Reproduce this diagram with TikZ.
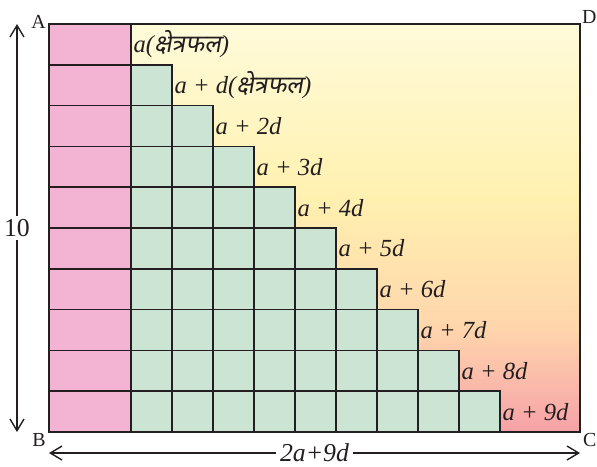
\documentclass[tikz,border=0pt]{standalone}
\usepackage{fontspec}
\setmainfont{Liberation Serif}
\newfontfamily\hindifont[Script=Devanagari,FakeSlant=0.18]{Noto Sans}
\usetikzlibrary{arrows.meta, positioning}
\definecolor{inkc}{RGB}{35,31,32}
\definecolor{pinkc}{RGB}{243,180,212}
\definecolor{greenc}{RGB}{204,228,212}
\definecolor{topc}{RGB}{255,251,218}
\definecolor{midc}{RGB}{255,241,176}
\definecolor{peachc}{RGB}{255,214,172}
\definecolor{botc}{RGB}{246,162,168}
\pgfdeclareverticalshading{fieldshade}{100bp}{color(0bp)=(botc); color(25bp)=(botc);
  color(38bp)=(peachc); color(54bp)=(midc); color(75bp)=(topc); color(100bp)=(topc)}
\tikzset{
  field/.style={shade, shading=fieldshade, anchor=north west, inner sep=0, outer sep=0,
                minimum width=15.93cm, minimum height=12.24cm},
  frame/.style={draw=inkc, line width=2pt},
  cell/.style={draw=inkc, line width=1.5pt, anchor=north west, inner sep=0, outer sep=0,
               minimum height=1.224cm},
  pinkcell/.style={cell, fill=pinkc, minimum width=2.46cm},
  greencell/.style={cell, fill=greenc, minimum width=1.23cm},
  lbl/.style={font=\fontsize{21}{24}\selectfont\itshape, text=inkc, inner sep=2pt},
  corner/.style={font=\fontsize{17}{20}\selectfont, text=inkc, inner sep=0},
  darr/.style={{Straight Barb[length=3.5mm,width=4.2mm]}-{Straight Barb[length=3.5mm,width=4.2mm]},
               line width=1.2pt, draw=inkc},
  dimlbl/.style={font=\fontsize{22}{24}\selectfont, text=inkc, fill=white, inner sep=3pt},
}
\newcommand{\kshetra}{{\upshape\hindifont क्षेत्रफल}}

\begin{document}
\begin{tikzpicture}[x=0.03cm, y=-0.03cm]

  \useasboundingbox (0,0) rectangle (597,466);

  % the shaded field behind the strips
  \node[field] (field) at (49,24) {};

  % pink strips (area a) and green squares (d each)
  \foreach \r in {0,...,9}
    \node[pinkcell] (p\r) at (49,{24+40.8*\r}) {};
  \foreach \r in {1,...,9}
    \foreach \c in {1,...,\r}
      \node[greencell] (g\r-\c) at ({90+41*\c},{24+40.8*\r}) {};

  \draw[frame] (field.north west) rectangle (field.south east);

  % row areas
  \node[lbl, right=0pt of p0] (l0) {a(\kshetra)};
  \node[lbl, right=0pt of g1-1] (l1) {a + d(\kshetra)};
  \foreach \r in {2,...,9}
    \node[lbl, right=0pt of g\r-\r] (l\r) {a + \r d};

  % corners
  \node[corner, anchor=base east] (A) at (46,28) {A};
  \node[corner, anchor=base east] (B) at (46,446) {B};
  \node[corner, anchor=base west] (C) at (583,446) {C};
  \node[corner, anchor=base west] (D) at (582,23) {D};

  % dimensions
  \coordinate (vtop) at (17,24);
  \coordinate (vbot) at (17,432);
  \draw[darr] (vbot) -- node[dimlbl] (ten) {10} (vtop);
  \coordinate (hleft) at (49,453);
  \coordinate (hright) at (580,453);
  \draw[darr] (hleft) -- node[dimlbl] (width) {\textit{2a+9d}} (hright);

\end{tikzpicture}
\end{document}
